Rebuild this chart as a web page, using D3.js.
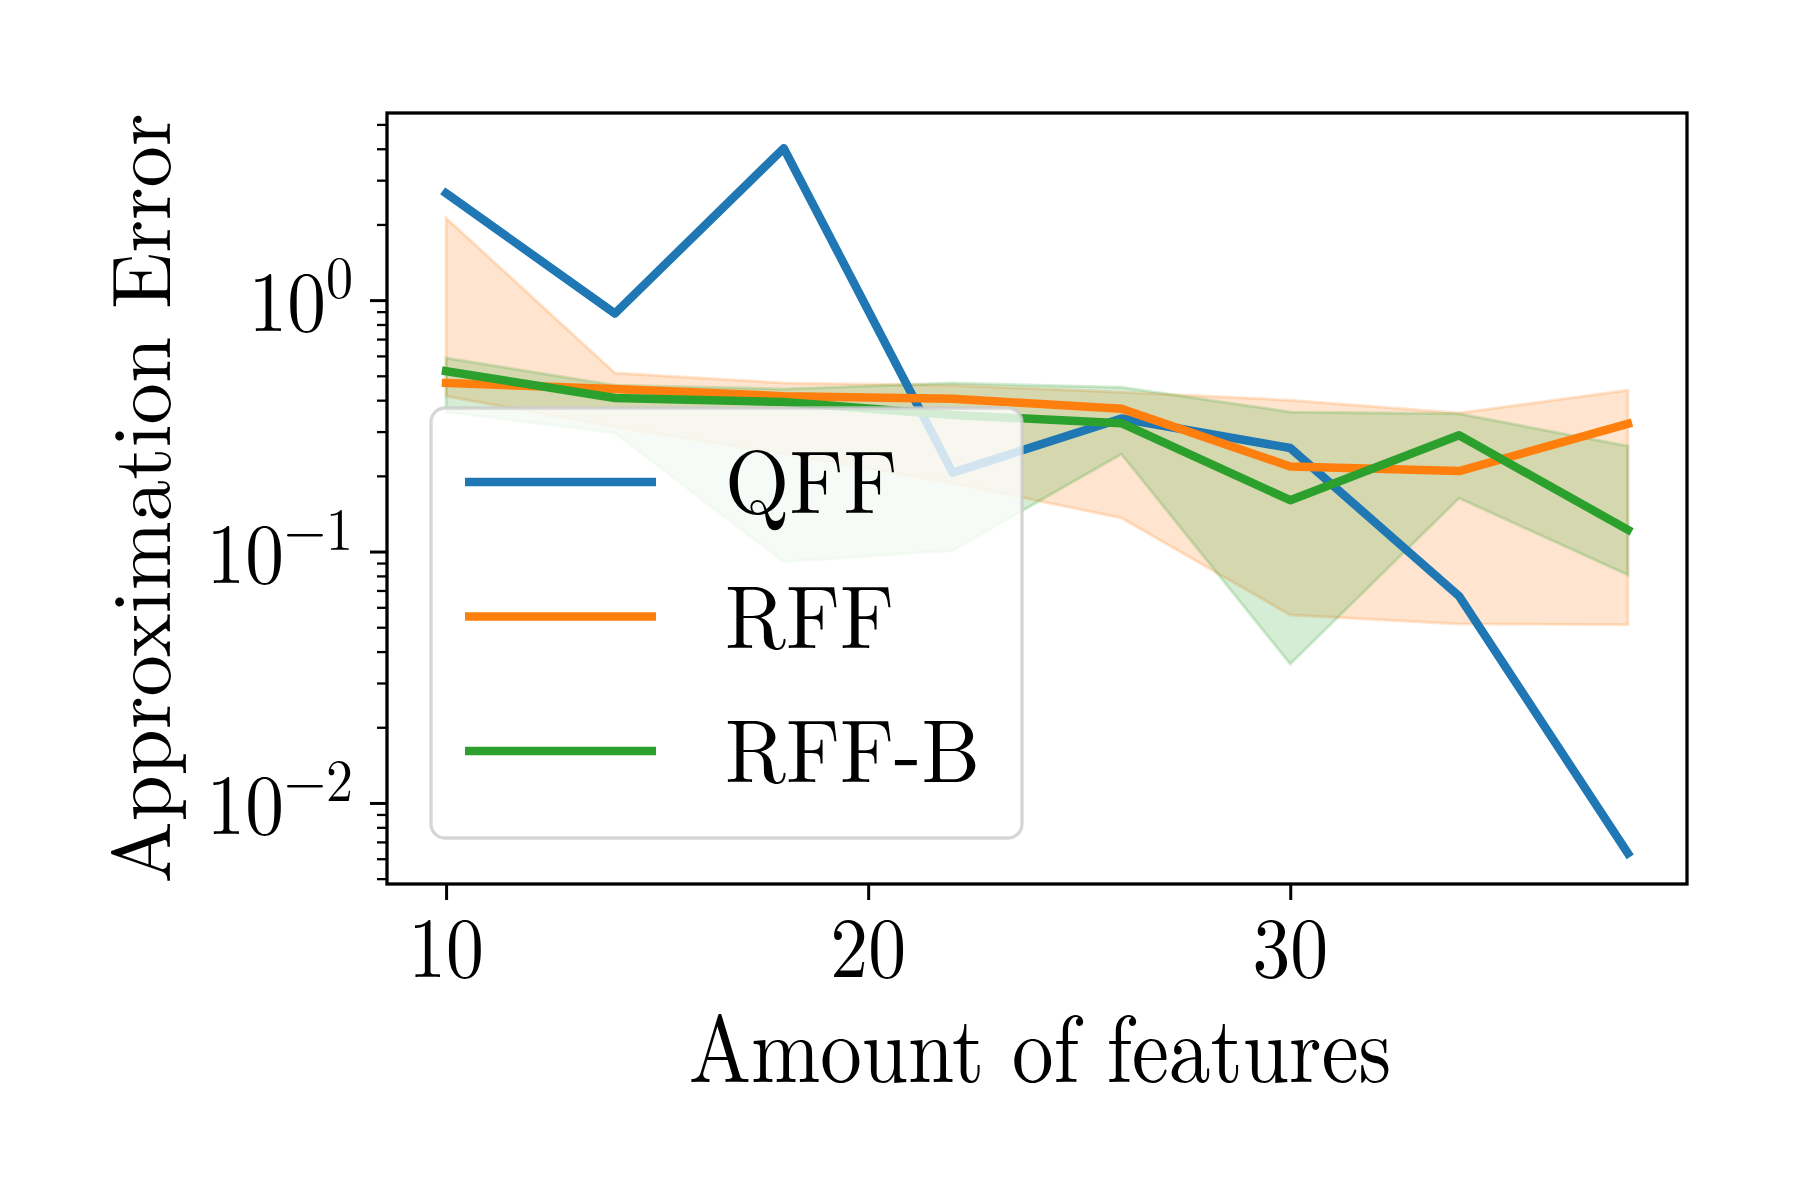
<!DOCTYPE html>
<html>
<head>
<meta charset="utf-8">
<script src="https://cdn.jsdelivr.net/npm/d3@7"></script>
<style>
  html, body { margin: 0; padding: 0; background: #fff; }
  svg text { font-family: 'Latin Modern Roman', 'CMU Serif', 'Liberation Serif', 'Times New Roman', serif; fill: #000; }
</style>
</head>
<body>
<div id="chart"></div>
<script>
  // amount of features on the x axis
  var features = [10, 14, 18, 22, 26, 30, 34, 38];

  // QFF mean error (no band)
  var qff = [2.66, 0.885, 4.02, 0.206, 0.338, 0.258, 0.0665, 0.0063];

  // RFF mean error and band
  var rff      = [0.468, 0.443, 0.415, 0.405, 0.370, 0.218, 0.209, 0.322];
  var rffUpper = [2.12, 0.513, 0.468, 0.459, 0.430, 0.400, 0.356, 0.438];
  var rffLower = [0.415, 0.313, 0.244, 0.187, 0.136, 0.0559, 0.0515, 0.0512];

  // RFF-B mean error and band
  var rffb      = [0.522, 0.408, 0.393, 0.349, 0.324, 0.160, 0.290, 0.122];
  var rffbUpper = [0.588, 0.459, 0.443, 0.468, 0.450, 0.359, 0.353, 0.263];
  var rffbLower = [0.359, 0.296, 0.091, 0.101, 0.244, 0.0357, 0.163, 0.0807];

  // tick labels
  var xTicks = [10, 20, 30];
  var yTicks = [0.01, 0.1, 1];
  var yTickExp = ["\u22122", "\u22121", "0"];
  var legendNames = ["QFF", "RFF", "RFF-B"];

  var colors = ["#1f77b4", "#ff7f0e", "#2ca02c"];

  var width = 1800, height = 1200;
  var plot = {left: 387, top: 113, right: 1687, bottom: 884};

  var svg = d3.select("#chart").append("svg")
    .attr("width", width)
    .attr("height", height);

  svg.append("rect").attr("width", width).attr("height", height).attr("fill", "#fff");

  var x = d3.scaleLinear().domain([8.6, 39.4]).range([plot.left, plot.right]);
  var y = d3.scaleLog().domain([0.00476, 5.55]).range([plot.bottom, plot.top]);

  //Text that is a bit narrower than the font (the reference glyphs are tall)
  function label(parent, px, py, sx, size, anchor){
    return parent.append("g")
      .attr("transform", "translate(" + px + "," + py + ") scale(" + sx + ",1)")
      .append("text")
      .attr("text-anchor", anchor)
      .attr("font-size", size);
  }

  //Bands
  function band(lower, upper, color){
    var area = d3.area()
      .x(function(d, i){ return x(features[i]); })
      .y0(function(d, i){ return y(lower[i]); })
      .y1(function(d, i){ return y(upper[i]); });
    svg.append("path")
      .datum(features)
      .attr("d", area)
      .attr("fill", color)
      .attr("fill-opacity", 0.2)
      .attr("stroke", color)
      .attr("stroke-opacity", 0.2)
      .attr("stroke-width", 3);
  }
  band(rffLower, rffUpper, colors[1]);
  band(rffbLower, rffbUpper, colors[2]);

  //Mean lines
  var line = d3.line()
    .x(function(d, i){ return x(features[i]); })
    .y(function(d){ return y(d); });

  [qff, rff, rffb].forEach(function(series, k){
    svg.append("path")
      .datum(series)
      .attr("d", line)
      .attr("fill", "none")
      .attr("stroke", colors[k])
      .attr("stroke-width", 8.5)
      .attr("stroke-linejoin", "round")
      .attr("stroke-linecap", "square");
  });

  //Axes: ticks from d3, labels drawn separately
  var xAxis = svg.append("g")
    .attr("transform", "translate(0," + plot.bottom + ")")
    .call(d3.axisBottom(x).tickValues(xTicks).tickSize(16).tickSizeOuter(0).tickFormat(""));

  var minor = [];
  [-3, -2, -1, 0].forEach(function(p){
    for (var k = 2; k <= 9; k++){
      var v = k * Math.pow(10, p);
      if (v >= y.domain()[0] && v <= y.domain()[1]) minor.push(v);
    }
  });

  var yAxis = svg.append("g")
    .attr("transform", "translate(" + plot.left + ",0)")
    .call(d3.axisLeft(y).tickValues(yTicks).tickSize(17).tickSizeOuter(0).tickFormat(""));

  var yMinor = svg.append("g")
    .attr("transform", "translate(" + plot.left + ",0)")
    .call(d3.axisLeft(y).tickValues(minor).tickSize(10).tickSizeOuter(0).tickFormat(""));

  [xAxis, yAxis, yMinor].forEach(function(g){ g.select(".domain").remove(); });
  xAxis.selectAll("line").attr("stroke", "#000").attr("stroke-width", 3);
  yAxis.selectAll("line").attr("stroke", "#000").attr("stroke-width", 3);
  yMinor.selectAll("line").attr("stroke", "#000").attr("stroke-width", 2.3);

  xTicks.forEach(function(d){
    label(svg, x(d), 977, 0.88, 86, "middle").text(d);
  });

  yTicks.forEach(function(d, i){
    var t = label(svg, 353, y(d) + 31, 0.9, 86, "end");
    t.append("tspan").text("10");
    t.append("tspan")
      .attr("dy", -33)
      .attr("font-size", 60)
      .text(yTickExp[i]);
  });

  //Frame
  svg.append("rect")
    .attr("x", plot.left).attr("y", plot.top)
    .attr("width", plot.right - plot.left)
    .attr("height", plot.bottom - plot.top)
    .attr("fill", "none")
    .attr("stroke", "#000")
    .attr("stroke-width", 3.3);

  //Axis titles
  label(svg, 1040, 1082, 0.875, 95, "middle").text("Amount of features");

  svg.append("text")
    .attr("transform", "translate(170," + ((plot.top + plot.bottom) / 2) + ") rotate(-90)")
    .attr("text-anchor", "middle")
    .attr("font-size", 83)
    .text("Approximation Error");

  //Legend
  var legend = svg.append("g");
  legend.append("rect")
    .attr("x", 431).attr("y", 408)
    .attr("width", 591).attr("height", 430)
    .attr("rx", 14).attr("ry", 14)
    .attr("fill", "#fff").attr("fill-opacity", 0.8)
    .attr("stroke", "#cccccc").attr("stroke-opacity", 0.8)
    .attr("stroke-width", 3.3);

  legendNames.forEach(function(name, i){
    var cy = 482 + i * 134.5;
    legend.append("line")
      .attr("x1", 465).attr("x2", 656)
      .attr("y1", cy).attr("y2", cy)
      .attr("stroke", colors[i])
      .attr("stroke-width", 8.5);
    label(legend, 725, cy + 31, 0.93, 89, "start").text(name);
  });
</script>
</body>
</html>
